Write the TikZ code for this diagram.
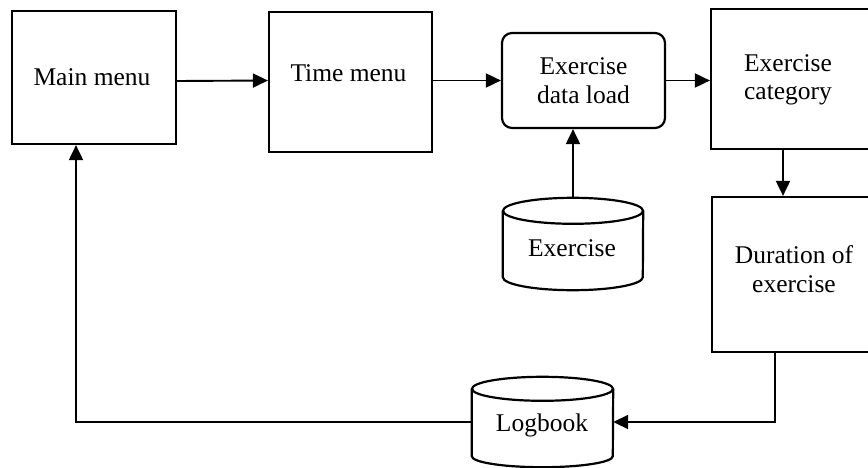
\documentclass[tikz,border=0pt]{standalone}
\usepackage{fontspec}
\setmainfont{Liberation Serif}
\usetikzlibrary{arrows.meta}
\begin{document}
\begin{tikzpicture}[x=1pt,y=1pt,
  proc/.style={draw, line width=2.2pt, inner sep=0pt},
  store/.style={inner sep=0pt},
  lbl/.style={align=center, inner sep=0pt, font=\fontsize{25.5}{28.5}\selectfont},
  conn/.style={line width=1.9pt, -{Triangle[length=15pt,width=14pt]}},
  edge/.style={line width=2.2pt}]
\useasboundingbox (0,0) rectangle (868,467);
\clip (0,0) rectangle (868,467);

% process boxes
\node[proc, minimum width=164pt, minimum height=133pt] (main) at (94,389.5) {};
\node[lbl] (maintext) at (92,390) {Main menu};
\node[proc, minimum width=163pt, minimum height=140pt] (time) at (350.5,385) {};
\node[lbl] (timetext) at (348.5,394) {Time menu};
\node[proc, rounded corners=10pt, minimum width=163pt, minimum height=95pt] (load) at (583.5,386.5) {};
\node[lbl] (loadtext) at (583.5,386.5) {Exercise\\data load};
\node[proc, minimum width=161pt, minimum height=140pt] (cat) at (791.5,388) {};
\node[lbl] (cattext) at (788,387) {Exercise\\category};
\node[proc, minimum width=160pt, minimum height=155pt] (dur) at (792,192.5) {};
\node[lbl] (durtext) at (794,198) {Duration of\\exercise};

% data stores
\node[store, minimum width=140pt, minimum height=92pt] (exdb) at (573,223) {};
\draw[edge] ([yshift=-13pt]exdb.north west) -- ([yshift=13pt]exdb.south west)
  arc[start angle=180, end angle=360, x radius=70pt, y radius=13pt]
  -- ([yshift=-13pt]exdb.north east);
\draw[edge] ([yshift=-13pt]exdb.north) ellipse[x radius=70pt, y radius=13pt];
\node[lbl] (exdbtext) at (572,219) {Exercise};

\node[store, minimum width=141pt, minimum height=90pt] (log) at (542.5,45) {};
\draw[edge] ([yshift=-12pt]log.north west) -- ([yshift=11pt]log.south west)
  arc[start angle=180, end angle=360, x radius=70.5pt, y radius=11pt]
  -- ([yshift=-12pt]log.north east);
\draw[edge] ([yshift=-12pt]log.north) ellipse[x radius=70.5pt, y radius=12pt];
\node[lbl] (logtext) at (542,42) {Logbook};

% routing points
\coordinate (d1) at (783,300);
\coordinate (c1) at (775,45);
\coordinate (c2) at (76,45);

% connectors
\draw[conn] ([yshift=-3.5pt]main.east) -- (time.west |- load.west);
\draw[conn] (time.east |- load.west) -- (load.west);
\draw[conn] (load.east) -- (cat.west |- load.east);
\draw[conn] (exdb.north) -- (load.south -| exdb.north);
\draw[conn] (cat.south -| d1) -- (dur.north -| d1);
\draw[conn] (dur.south -| c1) -- (c1) -- (log.east);
\draw[conn] (log.west) -- (c2) -- (c2 |- main.south);
\end{tikzpicture}
\end{document}
